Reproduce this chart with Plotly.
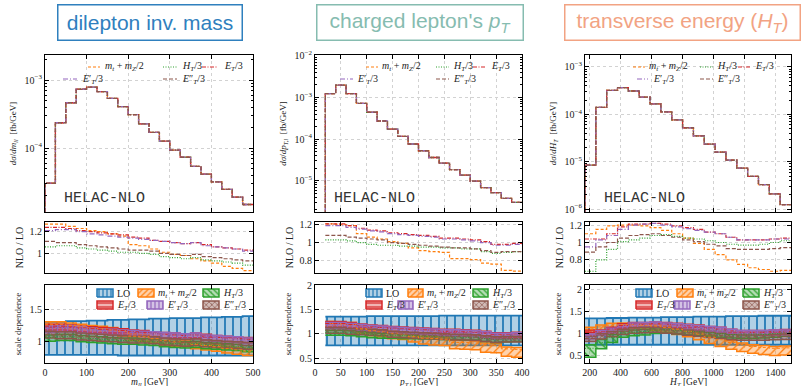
import plotly.graph_objects as go

W, H = 802, 386

# ======================= DATA =======================
# ---- panel 1: dilepton invariant mass ----
mll_edges = [0, 25, 50, 75, 100, 125, 150, 175, 200, 225, 250, 275, 300, 325, 350, 375, 400, 425, 450, 475, 500]
mll_xsec = [3.04e-5, 2.36e-4, 4.65e-4, 7.35e-4, 7.88e-4, 6.78e-4, 5.38e-4, 4.09e-4, 3.11e-4, 2.28e-4,
            1.71e-4, 1.27e-4, 9.33e-5, 7.34e-5, 5.39e-5, 4.14e-5, 3.18e-5, 2.47e-5, 1.90e-5, 1.48e-5]
mll_ratio_mt = [1.27, 1.27, 1.25, 1.23, 1.21, 1.20, 1.18, 1.16, 1.08, 1.07, 1.04, 1.01, 0.99, 0.98, 0.95, 0.93, 0.91, 0.88, 0.86, 0.84]
mll_ratio_ht = [1.06, 1.07, 1.07, 1.05, 1.04, 1.03, 1.02, 1.01, 1.01, 1.00, 0.99, 0.97, 0.96, 0.95, 0.96, 0.94, 0.93, 0.92, 0.91, 0.89]
mll_ratio_et = [1.24, 1.24, 1.23, 1.21, 1.20, 1.19, 1.18, 1.17, 1.15, 1.14, 1.12, 1.11, 1.10, 1.09, 1.10, 1.08, 1.06, 1.05, 1.04, 1.03]
mll_ratio_etp = [1.21, 1.22, 1.22, 1.20, 1.18, 1.17, 1.16, 1.15, 1.14, 1.13, 1.12, 1.11, 1.10, 1.09, 1.10, 1.07, 1.06, 1.05, 1.04, 1.02]
mll_ratio_etpp = [1.11, 1.10, 1.10, 1.08, 1.07, 1.06, 1.05, 1.04, 1.03, 1.03, 1.02, 1.00, 0.99, 0.98, 0.99, 0.97, 0.96, 0.95, 0.94, 0.93]
mll_band_lo_lo = [0.78, 0.78, 0.78, 0.78, 0.78, 0.78, 0.78, 0.77, 0.77, 0.77, 0.77, 0.77, 0.77, 0.77, 0.77, 0.77, 0.77, 0.77, 0.77, 0.77]
mll_band_lo_hi = [1.31, 1.31, 1.32, 1.32, 1.33, 1.33, 1.34, 1.34, 1.35, 1.35, 1.36, 1.36, 1.37, 1.37, 1.37, 1.38, 1.38, 1.39, 1.39, 1.40]
mll_band_mt_lo = [1.18, 1.18, 1.17, 1.15, 1.13, 1.12, 1.10, 1.08, 1.01, 1.00, 0.97, 0.94, 0.92, 0.91, 0.88, 0.86, 0.84, 0.81, 0.79, 0.77]
mll_band_mt_hi = [1.31, 1.31, 1.29, 1.27, 1.25, 1.24, 1.22, 1.20, 1.12, 1.11, 1.08, 1.05, 1.03, 1.02, 0.99, 0.97, 0.95, 0.92, 0.90, 0.88]
mll_band_ht_lo = [1.00, 1.01, 1.01, 0.99, 0.98, 0.97, 0.96, 0.95, 0.95, 0.94, 0.93, 0.91, 0.90, 0.89, 0.90, 0.88, 0.87, 0.86, 0.85, 0.83]
mll_band_ht_hi = [1.10, 1.11, 1.11, 1.09, 1.08, 1.07, 1.06, 1.05, 1.05, 1.04, 1.03, 1.01, 1.00, 0.99, 1.00, 0.98, 0.97, 0.96, 0.95, 0.93]
mll_band_et_lo = [1.18, 1.18, 1.17, 1.15, 1.14, 1.13, 1.12, 1.11, 1.09, 1.08, 1.06, 1.05, 1.04, 1.03, 1.04, 1.02, 1.00, 0.99, 0.98, 0.97]
mll_band_et_hi = [1.27, 1.27, 1.26, 1.24, 1.23, 1.22, 1.21, 1.20, 1.18, 1.17, 1.15, 1.14, 1.13, 1.12, 1.13, 1.11, 1.09, 1.08, 1.07, 1.06]
mll_band_etp_lo = [1.14, 1.15, 1.15, 1.13, 1.12, 1.11, 1.10, 1.09, 1.08, 1.07, 1.06, 1.05, 1.04, 1.03, 1.04, 1.01, 1.00, 0.99, 0.98, 0.96]
mll_band_etp_hi = [1.24, 1.25, 1.25, 1.23, 1.21, 1.20, 1.19, 1.18, 1.17, 1.16, 1.15, 1.14, 1.13, 1.12, 1.13, 1.10, 1.09, 1.08, 1.07, 1.05]
mll_band_etpp_lo = [1.05, 1.04, 1.04, 1.02, 1.01, 1.00, 0.99, 0.98, 0.97, 0.97, 0.96, 0.94, 0.93, 0.92, 0.93, 0.91, 0.90, 0.89, 0.88, 0.87]
mll_band_etpp_hi = [1.16, 1.15, 1.15, 1.13, 1.12, 1.11, 1.10, 1.09, 1.08, 1.08, 1.07, 1.05, 1.04, 1.03, 1.04, 1.02, 1.01, 1.00, 0.99, 0.98]

# ---- panel 2: charged lepton pT ----
ptl_edges = [20, 40, 60, 80, 100, 120, 140, 160, 180, 200, 220, 240, 260, 280, 300, 320, 340, 360, 380, 400]
ptl_xsec = [1.24e-3, 1.97e-3, 1.24e-3, 7.18e-4, 4.42e-4, 2.72e-4, 1.74e-4, 1.17e-4, 7.64e-5, 5.26e-5,
            3.62e-5, 2.64e-5, 1.85e-5, 1.37e-5, 9.8e-6, 6.87e-6, 5.19e-6, 3.78e-6, 3.02e-6]
ptl_ratio_mt = [1.21, 1.20, 1.19, 1.10, 1.06, 1.04, 1.01, 0.99, 0.94, 0.91, 0.90, 0.89, 0.82, 0.82, 0.81, 0.77, 0.76, 0.69, 0.68]
ptl_ratio_ht = [1.03, 1.03, 1.02, 1.00, 0.98, 0.97, 0.97, 0.96, 0.96, 0.95, 0.95, 0.94, 0.94, 0.93, 0.93, 0.90, 0.88, 0.89, 0.90]
ptl_ratio_et = [1.21, 1.21, 1.19, 1.16, 1.14, 1.13, 1.11, 1.10, 1.09, 1.08, 1.07, 1.05, 1.05, 1.04, 1.03, 1.01, 0.98, 0.98, 0.99]
ptl_ratio_etp = [1.19, 1.19, 1.17, 1.15, 1.13, 1.12, 1.10, 1.09, 1.08, 1.07, 1.06, 1.04, 1.04, 1.03, 1.02, 1.00, 0.97, 0.97, 0.98]
ptl_ratio_etpp = [1.08, 1.08, 1.06, 1.05, 1.04, 1.03, 1.00, 0.99, 0.98, 0.97, 0.96, 0.95, 0.94, 0.94, 0.93, 0.91, 0.89, 0.90, 0.90]
ptl_band_lo_lo = [0.76, 0.76, 0.76, 0.76, 0.76, 0.76, 0.76, 0.76, 0.76, 0.76, 0.76, 0.76, 0.76, 0.76, 0.76, 0.76, 0.76, 0.76, 0.76]
ptl_band_lo_hi = [1.35, 1.35, 1.35, 1.35, 1.36, 1.36, 1.36, 1.36, 1.36, 1.36, 1.36, 1.37, 1.37, 1.37, 1.37, 1.37, 1.37, 1.37, 1.37]
ptl_band_mt_lo = [1.13, 1.12, 1.10, 1.01, 0.96, 0.94, 0.90, 0.88, 0.83, 0.79, 0.77, 0.76, 0.69, 0.68, 0.67, 0.62, 0.61, 0.54, 0.52]
ptl_band_mt_hi = [1.25, 1.24, 1.23, 1.14, 1.10, 1.08, 1.05, 1.03, 0.98, 0.95, 0.94, 0.93, 0.86, 0.86, 0.85, 0.81, 0.80, 0.73, 0.72]
ptl_band_ht_lo = [0.97, 0.97, 0.96, 0.94, 0.92, 0.91, 0.91, 0.90, 0.90, 0.89, 0.89, 0.88, 0.88, 0.87, 0.87, 0.84, 0.82, 0.83, 0.84]
ptl_band_ht_hi = [1.07, 1.07, 1.06, 1.04, 1.02, 1.01, 1.01, 1.00, 1.00, 0.99, 0.99, 0.98, 0.98, 0.97, 0.97, 0.94, 0.92, 0.93, 0.94]
ptl_band_et_lo = [1.14, 1.14, 1.12, 1.09, 1.07, 1.06, 1.04, 1.03, 1.02, 1.01, 1.00, 0.98, 0.98, 0.97, 0.96, 0.94, 0.91, 0.91, 0.92]
ptl_band_et_hi = [1.25, 1.25, 1.23, 1.20, 1.18, 1.17, 1.15, 1.14, 1.13, 1.12, 1.11, 1.09, 1.09, 1.08, 1.07, 1.05, 1.02, 1.02, 1.03]
ptl_band_etp_lo = [1.11, 1.11, 1.09, 1.07, 1.05, 1.04, 1.02, 1.01, 1.00, 0.99, 0.98, 0.96, 0.96, 0.95, 0.94, 0.92, 0.89, 0.89, 0.90]
ptl_band_etp_hi = [1.23, 1.23, 1.21, 1.19, 1.17, 1.16, 1.14, 1.13, 1.12, 1.11, 1.10, 1.08, 1.08, 1.07, 1.06, 1.04, 1.01, 1.01, 1.02]
ptl_band_etpp_lo = [1.01, 1.01, 0.99, 0.98, 0.97, 0.96, 0.93, 0.92, 0.91, 0.90, 0.89, 0.88, 0.87, 0.87, 0.86, 0.84, 0.82, 0.83, 0.83]
ptl_band_etpp_hi = [1.13, 1.13, 1.11, 1.10, 1.09, 1.08, 1.05, 1.04, 1.03, 1.02, 1.01, 1.00, 0.99, 0.99, 0.98, 0.96, 0.94, 0.95, 0.95]

# ---- panel 3: transverse energy H_T ----
ht_edges = [170, 240, 310, 380, 450, 520, 590, 660, 730, 800, 870, 940, 1010, 1080, 1150, 1220, 1290, 1360, 1430, 1500]
ht_xsec = [8.5e-6, 1.4e-4, 3.2e-4, 3.65e-4, 3.1e-4, 2.3e-4, 1.65e-4, 1.12e-4, 7.6e-5, 5.2e-5,
           3.5e-5, 2.35e-5, 1.6e-5, 1.08e-5, 7.3e-6, 4.9e-6, 3.3e-6, 2.1e-6, 1.24e-6]
ht_ratio_mt = [1.10, 1.15, 1.19, 1.20, 1.20, 1.19, 1.17, 1.14, 1.10, 1.05, 0.99, 0.92, 0.86, 0.80, 0.75, 0.71, 0.69, 0.67, 0.68]
ht_ratio_ht = [0.67, 0.80, 0.92, 1.01, 1.03, 1.05, 1.08, 1.09, 1.07, 1.05, 1.04, 1.02, 1.00, 0.98, 0.97, 0.97, 0.98, 1.00, 1.02]
ht_ratio_et = [1.04, 1.04, 1.10, 1.18, 1.21, 1.21, 1.22, 1.21, 1.19, 1.17, 1.15, 1.12, 1.10, 1.06, 1.03, 1.03, 1.03, 1.04, 1.05]
ht_ratio_etp = [0.95, 1.03, 1.08, 1.15, 1.20, 1.21, 1.22, 1.20, 1.18, 1.16, 1.14, 1.12, 1.10, 1.06, 1.03, 1.03, 1.03, 1.04, 1.04]
ht_ratio_etpp = [0.89, 0.95, 1.00, 1.05, 1.08, 1.09, 1.10, 1.08, 1.06, 1.03, 1.01, 0.98, 0.96, 0.93, 0.92, 0.92, 0.92, 0.93, 0.94]
ht_band_lo_lo = [0.75, 0.75, 0.75, 0.75, 0.75, 0.75, 0.75, 0.75, 0.75, 0.75, 0.75, 0.75, 0.75, 0.75, 0.75, 0.75, 0.75, 0.75, 0.75]
ht_band_lo_hi = [1.34, 1.34, 1.35, 1.35, 1.36, 1.36, 1.36, 1.37, 1.37, 1.37, 1.38, 1.38, 1.38, 1.39, 1.39, 1.39, 1.40, 1.40, 1.40]
ht_band_mt_lo = [1.02, 1.07, 1.11, 1.12, 1.12, 1.10, 1.07, 1.03, 0.98, 0.93, 0.86, 0.78, 0.71, 0.65, 0.60, 0.56, 0.53, 0.51, 0.52]
ht_band_mt_hi = [1.14, 1.19, 1.23, 1.24, 1.24, 1.23, 1.21, 1.18, 1.14, 1.09, 1.03, 0.96, 0.90, 0.84, 0.79, 0.75, 0.73, 0.71, 0.72]
ht_band_ht_lo = [0.47, 0.66, 0.80, 0.92, 0.95, 0.97, 1.00, 1.01, 0.99, 0.97, 0.96, 0.94, 0.92, 0.90, 0.89, 0.89, 0.90, 0.92, 0.94]
ht_band_ht_hi = [0.75, 0.87, 0.98, 1.06, 1.08, 1.10, 1.13, 1.14, 1.12, 1.10, 1.09, 1.07, 1.05, 1.03, 1.02, 1.02, 1.03, 1.05, 1.07]
ht_band_et_lo = [0.97, 0.97, 1.03, 1.11, 1.14, 1.14, 1.15, 1.14, 1.12, 1.10, 1.08, 1.05, 1.03, 0.99, 0.96, 0.96, 0.96, 0.97, 0.98]
ht_band_et_hi = [1.08, 1.08, 1.14, 1.22, 1.25, 1.25, 1.26, 1.25, 1.23, 1.21, 1.19, 1.16, 1.14, 1.10, 1.07, 1.07, 1.07, 1.08, 1.09]
ht_band_etp_lo = [0.88, 0.96, 1.01, 1.08, 1.13, 1.14, 1.15, 1.13, 1.11, 1.09, 1.07, 1.05, 1.03, 0.99, 0.96, 0.96, 0.96, 0.97, 0.97]
ht_band_etp_hi = [0.99, 1.07, 1.12, 1.19, 1.24, 1.25, 1.26, 1.24, 1.22, 1.20, 1.18, 1.16, 1.14, 1.10, 1.07, 1.07, 1.07, 1.08, 1.08]
ht_band_etpp_lo = [0.82, 0.88, 0.93, 0.98, 1.01, 1.02, 1.03, 1.01, 0.99, 0.96, 0.94, 0.91, 0.89, 0.86, 0.85, 0.85, 0.85, 0.86, 0.87]
ht_band_etpp_hi = [0.94, 1.00, 1.05, 1.10, 1.13, 1.14, 1.15, 1.13, 1.11, 1.08, 1.06, 1.03, 1.01, 0.98, 0.97, 0.97, 0.97, 0.98, 0.99]

# ---- labels / titles ----
panel_titles = ["dilepton inv. mass", "charged lepton's <i>p</i><sub><i>T</i></sub>",
                "transverse energy (<i>H</i><sub><i>T</i></sub>)"]
x_titles = ["<i>m</i><sub><i>ll</i></sub> [GeV]", "<i>p</i><sub><i>T,l</i></sub> [GeV]", "<i>H</i><sub><i>T</i></sub> [GeV]"]
y_top_titles = ["<i>dσ</i>/<i>dm</i><sub><i>ll</i></sub>  [fb/GeV]", "<i>dσ</i>/<i>dp</i><sub><i>T,l</i></sub>  [fb/GeV]",
                "<i>dσ</i>/<i>dH</i><sub><i>T</i></sub>  [fb/GeV]"]
x_tickvals = [[0, 100, 200, 300, 400, 500], [0, 50, 100, 150, 200, 250, 300, 350, 400],
              [200, 400, 600, 800, 1000, 1200, 1400]]
scale_keys = ["mt", "ht", "et", "etp", "etpp"]
labels = {"lo": "LO",
          "mt": "<i>m</i><sub><i>t</i></sub> + <i>m</i><sub><i>Z</i></sub>/2",
          "ht": "<i>H</i><sub><i>T</i></sub>/3",
          "et": "<i>E</i><sub><i>T</i></sub>/3",
          "etp": "<i>E</i>′<sub><i>T</i></sub>/3",
          "etpp": "<i>E</i>″<sub><i>T</i></sub>/3"}

g = globals()
panels = []
for pre, edges, xsec in [("mll", mll_edges, mll_xsec), ("ptl", ptl_edges, ptl_xsec), ("ht", ht_edges, ht_xsec)]:
    panels.append(dict(
        edges=edges, xsec=xsec,
        ratio={k: g[f"{pre}_ratio_{k}"] for k in scale_keys},
        band={k: (g[f"{pre}_band_{k}_lo"], g[f"{pre}_band_{k}_hi"]) for k in ["lo"] + scale_keys},
    ))

# ======================= STYLE / LAYOUT =======================
colors = {"lo": "#1f77b4", "mt": "#ff7f0e", "ht": "#2ca02c", "et": "#d62728", "etp": "#9467bd", "etpp": "#8c564b"}
fills = {"lo": "rgba(31,119,180,0.35)", "mt": "rgba(255,127,14,0.35)", "ht": "rgba(44,160,44,0.35)",
         "et": "rgba(214,39,40,0.35)", "etp": "rgba(148,103,189,0.4)", "etpp": "rgba(140,86,75,0.4)"}
patterns = {"lo": "|", "mt": "/", "ht": "\\", "et": "-", "etp": "|", "etpp": "x"}
pat_size = {"lo": 8, "mt": 6, "ht": 6, "et": 5, "etp": 5, "etpp": 6}
dashes = {"mt": "3px,2px", "ht": "1px,1.5px", "et": "4px,1.5px,1px,1.5px", "etp": "5px,2px,1px,2px", "etpp": "4px,2px"}

X_PX = [(45, 253), (315, 522), (585, 791)]
Y_PX = [(55, 212), (222, 273), (285, 363)]
x_ranges = [[0, 500], [0, 400], [170, 1500]]
y_ranges = [
    [[-4.94, -2.63], [-5.75, -1.98], [-6.06, -2.75]],
    [[0.818, 1.29], [0.66, 1.23], [0.65, 1.235]],
    [[0.65, 1.9], [0.4, 2.0], [0.34, 2.09]],
]
SERIF = "Liberation Serif"
tickfont = dict(family=SERIF, size=10, color="#222")
GRID = "#d2d2d2"


def px2paper(x, y):
    return x / W, 1 - y / H


fig = go.Figure()
layout = dict(width=W, height=H, margin=dict(l=0, r=0, t=0, b=0, autoexpand=False), paper_bgcolor="white",
              plot_bgcolor="white", showlegend=False)

shapes, annotations = [], []

for p, pan in enumerate(panels):
    edges = pan["edges"]
    for r in range(3):
        idx = r * 3 + p + 1
        xa, ya = f"x{idx}", f"y{idx}"
        xk, yk = ("xaxis" if idx == 1 else f"xaxis{idx}"), ("yaxis" if idx == 1 else f"yaxis{idx}")
        x0p, x1p = X_PX[p]
        y0p, y1p = Y_PX[r]
        xax = dict(domain=[x0p / W, x1p / W], range=x_ranges[p], anchor=ya, showline=True, linecolor="black",
                   linewidth=1, mirror="allticks", ticks="inside", ticklen=4, tickcolor="black",
                   tickvals=x_tickvals[p], showticklabels=(r == 2), tickfont=tickfont, zeroline=False,
                   showgrid=True, gridcolor=GRID, griddash="dot", gridwidth=1, automargin=False)
        yax = dict(domain=[1 - y1p / H, 1 - y0p / H], range=y_ranges[r][p], anchor=xa, showline=True,
                   linecolor="black", linewidth=1, mirror="allticks", ticks="inside", ticklen=4,
                   tickcolor="black", tickfont=tickfont, zeroline=False, showgrid=True, gridcolor=GRID,
                   griddash="dot", gridwidth=1, automargin=False)
        if r == 0:
            exps = [-2, -3, -4, -5, -6]
            yax.update(type="log", tickvals=[10.0 ** e for e in exps],
                       ticktext=[f"10<sup>−{-e}</sup>" for e in exps],
                       minor=dict(tickvals=[m * 10.0 ** e for e in range(-7, -1) for m in range(2, 10)],
                                  ticks="inside", ticklen=2, tickcolor="black", showgrid=False),
                       title=dict(text=y_top_titles[p], font=dict(family=SERIF, size=9, color="#222"), standoff=6))
        elif r == 1:
            yax.update(tickvals=[0.8, 1.0, 1.2], ticktext=["0.8", "1", "1.2"],
                       title=dict(text="NLO / LO", font=dict(family=SERIF, size=10, color="#222"), standoff=4))
        else:
            yax.update(tickvals=[0.5, 1.0, 1.5, 2.0], ticktext=["0.5", "1", "1.5", "2"],
                       title=dict(text="scale dependence", font=dict(family=SERIF, size=9, color="#222"), standoff=6))
        layout[xk] = xax
        layout[yk] = yax

        if r == 0:
            for k in scale_keys:
                fig.add_trace(go.Scatter(
                    x=[edges[0]] + edges, y=[1e-12] + pan["xsec"] + [pan["xsec"][-1]],
                    mode="lines", line=dict(color=colors[k], width=1.3, dash=dashes[k], shape="hv"),
                    xaxis=xa, yaxis=ya, hoverinfo="skip"))
        elif r == 1:
            for k in scale_keys:
                v = pan["ratio"][k]
                fig.add_trace(go.Scatter(
                    x=edges, y=v + [v[-1]], mode="lines",
                    line=dict(color=colors[k], width=1.2, dash=dashes[k], shape="hv"),
                    xaxis=xa, yaxis=ya, hoverinfo="skip"))
        else:
            for k in ["lo"] + scale_keys:
                lo, hi = pan["band"][k]
                lw = 1.8 if k == "lo" else 1.5
                fig.add_trace(go.Scatter(
                    x=edges, y=lo + [lo[-1]], mode="lines",
                    line=dict(color=colors[k], width=lw, shape="hv"),
                    xaxis=xa, yaxis=ya, hoverinfo="skip"))
                fig.add_trace(go.Scatter(
                    x=edges, y=hi + [hi[-1]], mode="lines", fill="tonexty",
                    fillcolor=fills[k],
                    fillpattern=dict(shape=patterns[k], fgcolor=colors[k], bgcolor=fills[k], size=pat_size[k],
                                     solidity=0.22, fillmode="replace"),
                    line=dict(color=colors[k], width=lw, shape="hv"),
                    xaxis=xa, yaxis=ya, hoverinfo="skip"))
            for k in scale_keys:
                v = pan["ratio"][k]
                fig.add_trace(go.Scatter(
                    x=edges, y=v + [v[-1]], mode="lines",
                    line=dict(color=colors[k], width=1, dash=dashes[k], shape="hv"),
                    xaxis=xa, yaxis=ya, hoverinfo="skip"))

    # x-axis title below bottom row
    cx, cy = px2paper((X_PX[p][0] + X_PX[p][1]) / 2, 382)
    annotations.append(dict(text=x_titles[p], x=cx, y=cy, xref="paper", yref="paper", xanchor="center",
                            yanchor="middle", showarrow=False, font=dict(family=SERIF, size=9.5, color="#222")))

# ---------- title boxes ----------
title_cols = ["#2f80be", "#86bcb0", "#f2a383"]
title_box = [(57, 243), (316, 524), (564, 801)]
for p in range(3):
    x0, x1 = title_box[p]
    cx, cy = px2paper((x0 + x1) / 2, 23)
    annotations.append(dict(text=panel_titles[p], x=cx, y=cy, xref="paper", yref="paper", xanchor="center",
                            yanchor="middle", showarrow=False,
                            font=dict(family="Liberation Sans", size=21, color=title_cols[p]),
                            bordercolor=title_cols[p], borderwidth=1.5, borderpad=0,
                            width=x1 - x0 - 3, height=34, bgcolor="white"))

# ---------- HELAC-NLO ----------
for xh in [62, 332, 602]:
    hx, hy = px2paper(xh, 198)
    annotations.append(dict(text="HELAC-NLO", x=hx, y=hy, xref="paper", yref="paper", xanchor="left",
                            yanchor="middle", showarrow=False,
                            font=dict(family="Liberation Mono", size=15, color="#333")))

# ---------- top legends (line handles) ----------
top_leg = [
    {"mt": (88, 100, 103, 67), "ht": (163, 178, 180, 67), "et": (202, 217, 222, 67),
     "etp": (63, 77, 80, 79), "etpp": (163, 177, 180, 79)},
    {"mt": (366, 378, 380, 67), "ht": (436, 449, 451, 67), "et": (473, 486, 489, 67),
     "etp": (340, 353, 355, 79), "etpp": (436, 449, 451, 79)},
    {"mt": (633, 645, 647, 67), "ht": (700, 713, 715, 67), "et": (738, 750, 753, 67),
     "etp": (637, 648, 651, 79), "etpp": (700, 713, 715, 79)},
]
for p in range(3):
    for k, (hx0, hx1, tx, ty) in top_leg[p].items():
        a0, b0 = px2paper(hx0, ty)
        a1, _ = px2paper(hx1, ty)
        shapes.append(dict(type="line", xref="paper", yref="paper", x0=a0, x1=a1, y0=b0, y1=b0,
                           line=dict(color=colors[k], width=1.2, dash=dashes[k])))
        t0, _ = px2paper(tx, ty)
        annotations.append(dict(text=labels[k], x=t0, y=b0, xref="paper", yref="paper", xanchor="left",
                                yanchor="middle", showarrow=False,
                                font=dict(family=SERIF, size=10, color="#222")))

# ---------- bottom legends (patch handles) ----------
bot_leg = [
    {"lo": (97, 113, 115, 293), "mt": (138, 154, 156, 293), "ht": (203, 219, 221, 293),
     "et": (97, 113, 115, 305), "etp": (147, 163, 165, 305), "etpp": (203, 219, 221, 305)},
    {"lo": (366, 382, 384, 293), "mt": (408, 423, 425, 293), "ht": (473, 488, 490, 293),
     "et": (366, 382, 384, 305), "etp": (398, 413, 415, 305), "etpp": (473, 488, 490, 305)},
    {"lo": (636, 652, 654, 293), "mt": (677, 693, 695, 293), "ht": (743, 759, 761, 293),
     "et": (636, 652, 654, 305), "etp": (674, 690, 692, 305), "etpp": (743, 759, 761, 305)},
]
for p in range(3):
    idx = 6 + p + 1
    (X0, X1), (Y0, Y1) = X_PX[p], Y_PX[2]
    xr, yr = x_ranges[p], y_ranges[2][p]

    def dx(px):
        return xr[0] + (px - X0) / (X1 - X0) * (xr[1] - xr[0])

    def dy(py):
        return yr[0] + (Y1 - py) / (Y1 - Y0) * (yr[1] - yr[0])

    for k, (hx0, hx1, tx, ty) in bot_leg[p].items():
        xs = [dx(hx0), dx(hx1), dx(hx1), dx(hx0), dx(hx0)]
        ys = [dy(ty + 4), dy(ty + 4), dy(ty - 4), dy(ty - 4), dy(ty + 4)]
        fig.add_trace(go.Scatter(x=xs, y=ys, mode="lines", fill="toself", fillcolor=fills[k],
                                 fillpattern=dict(shape=patterns[k], fgcolor=colors[k], bgcolor=fills[k],
                                                  size=4, solidity=0.3, fillmode="replace"),
                                 line=dict(color=colors[k], width=1.5), xaxis=f"x{idx}", yaxis=f"y{idx}",
                                 hoverinfo="skip"))
        t0, b0 = px2paper(tx, ty)
        annotations.append(dict(text=labels[k], x=t0, y=b0, xref="paper", yref="paper", xanchor="left",
                                yanchor="middle", showarrow=False,
                                font=dict(family=SERIF, size=10, color="#222")))

layout["shapes"] = shapes
layout["annotations"] = annotations
fig.update_layout(**layout)
fig.write_html("out.html", config={"displayModeBar": False},
               post_script="document.body.style.margin='0px';document.body.style.overflow='hidden';")
